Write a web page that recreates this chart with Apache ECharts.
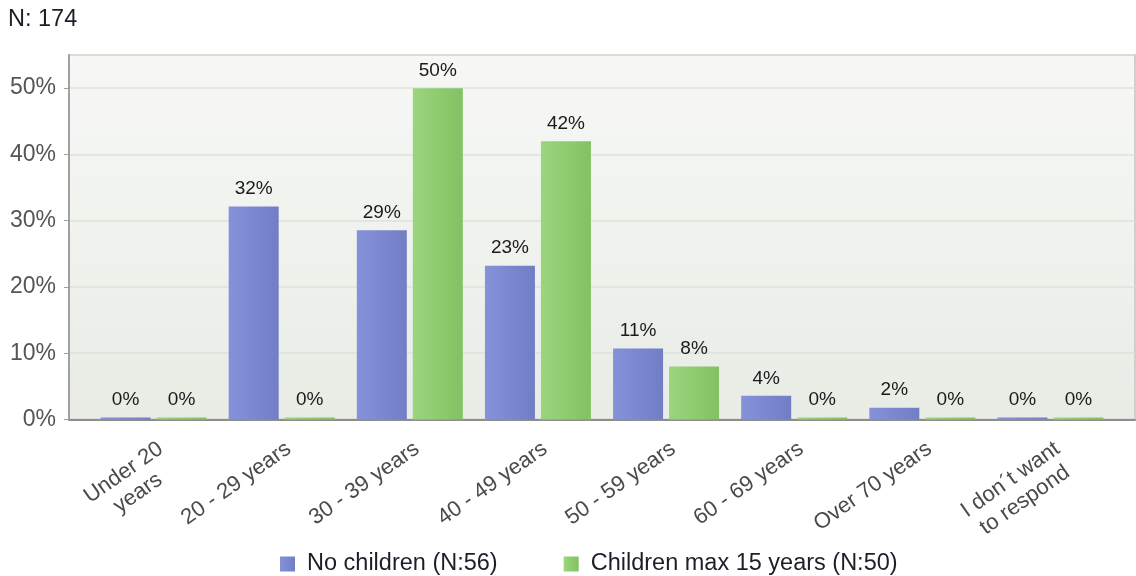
<!DOCTYPE html>
<html>
<head>
<meta charset="utf-8">
<title>N: 174</title>
<script src="https://cdn.jsdelivr.net/npm/echarts@6/dist/echarts.min.js"></script>
<style>
  html, body { margin: 0; padding: 0; background: #ffffff; }
  #chart { width: 1136px; height: 576px; }
</style>
</head>
<body>
<div id="chart"></div>
<script>
// Age groups on the category axis
const categories = [
  'Under 20\nyears', '20 - 29 years', '30 - 39 years', '40 - 49 years',
  '50 - 59 years', '60 - 69 years', 'Over 70 years', 'I don´t want\nto respond'
];
// Share of respondents per age group (%)
const noChildren = [0, 32.14, 28.57, 23.21, 10.71, 3.57, 1.79, 0];
const childrenMax15 = [0, 0, 50, 42, 8, 0, 0, 0];
const seriesNames = ['No children (N:56)', 'Children max 15 years (N:50)'];
const titleText = 'N: 174';
const yTicks = [0, 10, 20, 30, 40, 50];

const FONT = '"Liberation Sans", Arial, sans-serif';
const TOP = 55, BOTTOM = 156.5;

function hGrad(a, b) {
  return new echarts.graphic.LinearGradient(0, 0, 1, 0, [
    { offset: 0, color: a }, { offset: 1, color: b }
  ]);
}

const valueLabel = {
  show: true, position: 'top', distance: 8,
  formatter: p => Math.round(p.value) + '%',
  fontFamily: FONT, fontSize: 19, color: '#1a1a1a'
};

const chart = echarts.init(document.getElementById('chart'), null, { renderer: 'canvas' });

chart.setOption({
  animation: false,
  title: {
    text: titleText, left: 8, top: 8, padding: 0,
    textStyle: { fontFamily: FONT, fontSize: 23.5, fontWeight: 'normal', color: '#1e1e2a' }
  },
  legend: {
    data: seriesNames, left: 280, top: 552, padding: 0,
    icon: 'rect', itemWidth: 15, itemHeight: 15, itemGap: 66,
    textStyle: { fontFamily: FONT, fontSize: 23.5, color: '#1e1e2a', padding: [0, 0, 0, 7] }
  },
  grid: [
    // framed plot area with the value axis
    {
      left: 69, right: 1, top: TOP, bottom: BOTTOM, show: true,
      backgroundColor: new echarts.graphic.LinearGradient(0, 0, 0, 1, [
        { offset: 0, color: '#f7f8f6' }, { offset: 1, color: '#e8ece5' }
      ]),
      borderColor: '#cfcfcf', borderWidth: 2
    },
    // inset area holding the bars
    { left: 89.5, right: 21.5, top: TOP, bottom: BOTTOM }
  ],
  xAxis: [
    {
      gridIndex: 0, type: 'value', min: 0, max: 1,
      axisLine: { show: true, lineStyle: { color: '#8e8e8e', width: 2 } },
      axisTick: { show: false }, axisLabel: { show: false }, splitLine: { show: false }
    },
    {
      gridIndex: 1, type: 'category', data: categories,
      axisLine: { show: false }, axisTick: { show: false },
      axisLabel: {
        interval: 0, rotate: 35, margin: 17, align: 'right', verticalAlign: 'top',
        formatter: v => v.split('\n').map(s => '{c|' + s + '}').join('\n'),
        rich: {
          c: { align: 'center', fontFamily: FONT, fontSize: 22, color: '#4a4a4a', lineHeight: 25 }
        }
      }
    }
  ],
  yAxis: [
    {
      gridIndex: 0, type: 'value', min: 0, max: 55, interval: 10,
      axisLine: { show: true, lineStyle: { color: '#a0a0a0', width: 2 } },
      axisTick: { show: true, length: 5, lineStyle: { color: '#a0a0a0' } },
      axisLabel: {
        showMaxLabel: false, margin: 13,
        formatter: v => (yTicks.indexOf(v) >= 0 ? v + '%' : ''),
        fontFamily: FONT, fontSize: 23, color: '#555555'
      },
      splitLine: { show: true, lineStyle: { color: '#dde2da', width: 1.5 } }
    },
    { gridIndex: 1, type: 'value', min: 0, max: 55, show: false }
  ],
  series: [
    {
      name: seriesNames[0], type: 'bar', xAxisIndex: 1, yAxisIndex: 1,
      data: noChildren, barWidth: 50, barGap: '12%', barMinHeight: 2,
      itemStyle: { color: hGrad('#8591d8', '#717ec5') },
      label: valueLabel
    },
    {
      name: seriesNames[1], type: 'bar', xAxisIndex: 1, yAxisIndex: 1,
      data: childrenMax15, barWidth: 50, barGap: '12%', barMinHeight: 2,
      itemStyle: { color: hGrad('#9bd57c', '#82c263') },
      label: valueLabel
    }
  ]
});
</script>
</body>
</html>
